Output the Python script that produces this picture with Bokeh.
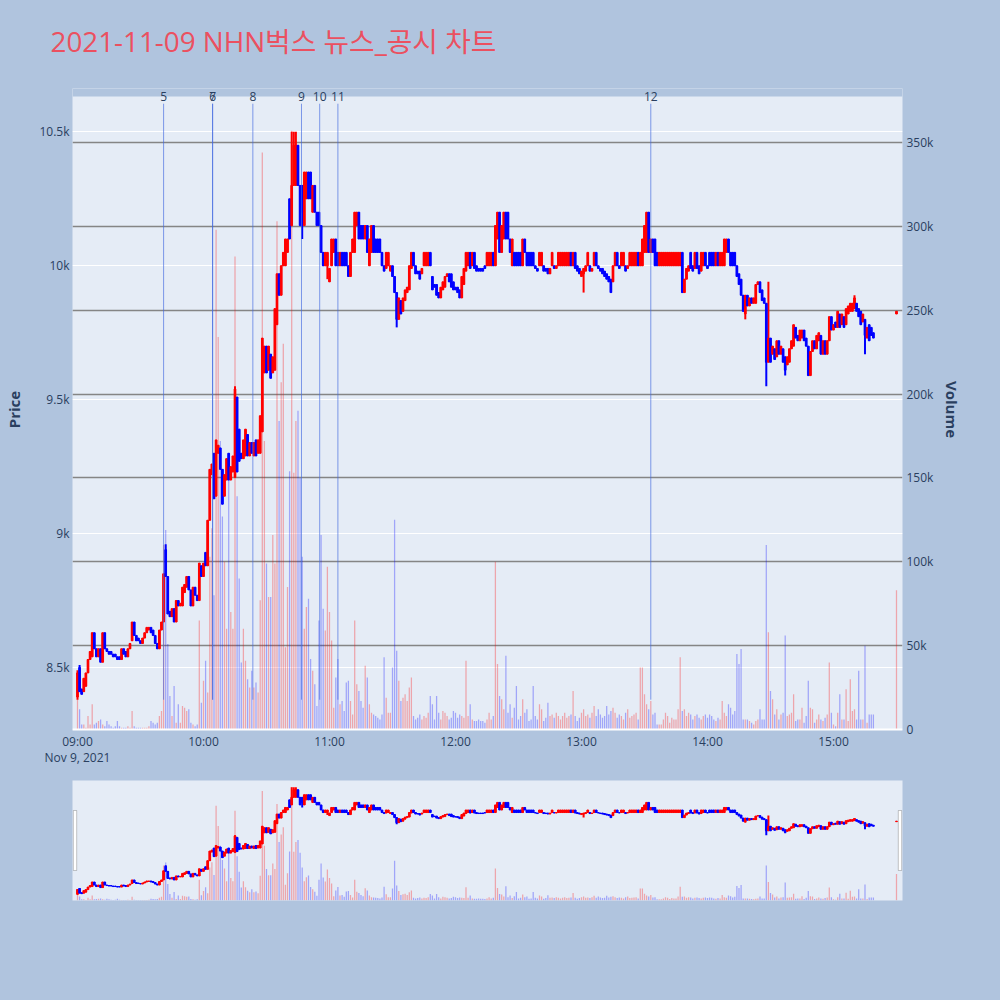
from bokeh.plotting import figure
from bokeh.models import (ColumnDataSource, Range1d, LinearAxis, FixedTicker, Grid, Span,
                          LabelSet, BoxAnnotation)
from bokeh.layouts import column
from bokeh.embed import file_html
from bokeh.resources import INLINE
from bokeh.core.properties import value

# ---------------- data ----------------
TITLE = "2021-11-09 NHN벅스 뉴스_공시 차트"
session_open = "09:00"

# one candle per minute from 09:00 (minute 0) to 15:19 (minute 379)
opens = [
    8390, 8500, 8420, 8410, 8430, 8480, 8530, 8540, 8630, 8570,
    8540, 8570, 8520, 8630, 8570, 8560, 8560, 8550, 8550, 8540,
    8540, 8530, 8570, 8560, 8540, 8570, 8600, 8670, 8620, 8610,
    8600, 8590, 8610, 8630, 8640, 8650, 8640, 8620, 8590, 8570,
    8640, 8670, 8940, 8840, 8710, 8690, 8720, 8670, 8750, 8730,
    8730, 8780, 8800, 8840, 8790, 8730, 8800, 8770, 8750, 8880,
    8840, 8930, 8880, 9050, 9220, 9300, 9140, 9300, 9320, 9240,
    9140, 9200, 9300, 9200, 9230, 9210, 9510, 9390, 9300, 9280,
    9290, 9370, 9290, 9340, 9290, 9350, 9300, 9300, 9380, 9600,
    9700, 9610, 9670, 9600, 9610, 9780, 9970, 9890, 10000, 10000,
    10050, 10250, 10150, 10300, 10300, 10450, 10300, 10300, 10150, 10250,
    10350, 10350, 10200, 10300, 10200, 10200, 10150, 10050, 10000, 10000,
    9940, 10000, 10050, 10100, 10050, 10000, 10050, 10050, 10050, 10000,
    9960, 10050, 10050, 10150, 10200, 10150, 10150, 10100, 10150, 10000,
    10050, 10150, 10100, 10100, 10100, 10050, 10000, 9990, 10000, 9980,
    10000, 9960, 9900, 9800, 9870, 9830, 9870, 9900, 9910, 9990,
    10050, 10000, 9980, 9980, 9970, 10000, 10000, 10000, 10050, 9960,
    9930, 9930, 9900, 9880, 9910, 9920, 9960, 9970, 9970, 9940,
    9920, 9920, 9910, 9880, 9930, 9980, 10000, 10050, 10000, 10050,
    10000, 9990, 9990, 9990, 10000, 10000, 10000, 10000, 10050, 10000,
    10100, 10200, 10050, 10100, 10200, 10200, 10100, 10000, 10050, 10050,
    10050, 10050, 10000, 10100, 10050, 10050, 10050, 10050, 10000, 9990,
    10000, 10000, 10000, 9990, 9990, 9970, 10000, 10000, 9990, 10000,
    10000, 10000, 10000, 10000, 10000, 10050, 10000, 10050, 10000, 9990,
    9960, 9970, 9980, 10000, 10000, 9980, 10000, 10050, 10000, 9990,
    9990, 9980, 9970, 9960, 9950, 9940, 10000, 10050, 10000, 10000,
    10000, 10000, 9990, 10000, 10000, 10000, 10000, 10050, 10000, 10000,
    10050, 10050, 10200, 10050, 10100, 10100, 10050, 10000, 10000, 10000,
    10000, 10000, 10000, 10000, 10000, 10000, 10000, 10000, 10050, 9900,
    9950, 9980, 10050, 10000, 9990, 10050, 10000, 9980, 10000, 10050,
    10000, 10050, 10050, 10050, 10000, 10050, 10000, 10000, 10000, 10050,
    10100, 10050, 10050, 10050, 10000, 9970, 9950, 9890, 9820, 9890,
    9850, 9880, 9860, 9860, 9930, 9940, 9910, 9880, 9860, 9640,
    9730, 9670, 9690, 9660, 9720, 9670, 9690, 9660, 9630, 9640,
    9690, 9700, 9770, 9740, 9720, 9730, 9760, 9730, 9700, 9590,
    9680, 9720, 9690, 9720, 9740, 9670, 9720, 9670, 9720, 9810,
    9760, 9790, 9770, 9820, 9780, 9810, 9780, 9820, 9830, 9830,
    9840, 9860, 9840, 9830, 9790, 9800, 9730, 9780, 9770, 9750,
]
closes = [
    8480, 8410, 8400, 8460, 8480, 8530, 8560, 8630, 8570, 8540,
    8570, 8520, 8630, 8570, 8560, 8550, 8550, 8540, 8540, 8530,
    8530, 8570, 8550, 8540, 8570, 8590, 8670, 8620, 8600, 8600,
    8590, 8610, 8630, 8650, 8650, 8630, 8620, 8590, 8570, 8640,
    8670, 8850, 8840, 8700, 8690, 8720, 8670, 8750, 8730, 8740,
    8800, 8810, 8840, 8790, 8730, 8800, 8770, 8750, 8890, 8840,
    8890, 8880, 9050, 9240, 9260, 9130, 9350, 9330, 9240, 9110,
    9220, 9280, 9200, 9250, 9290, 9540, 9230, 9270, 9280, 9350,
    9390, 9290, 9340, 9300, 9340, 9290, 9350, 9440, 9730, 9700,
    9600, 9700, 9580, 9660, 9840, 9970, 9890, 10000, 10050, 10100,
    10100, 10100, 10300, 10450, 10450, 10300, 10150, 10200, 10350, 10350,
    10250, 10250, 10300, 10200, 10150, 10150, 10050, 10000, 10050, 10050,
    9990, 10100, 10100, 10000, 10000, 10050, 10000, 10000, 10000, 9960,
    10050, 10100, 10200, 10200, 10100, 10100, 10100, 10150, 10050, 10100,
    10150, 10050, 10050, 10050, 10050, 10000, 9980, 10050, 10050, 10000,
    9960, 9900, 9800, 9880, 9820, 9880, 9910, 9920, 10000, 10050,
    10000, 9970, 9970, 9950, 9990, 10050, 10050, 10050, 10000, 9910,
    9920, 9890, 9880, 9920, 9940, 9960, 9970, 9940, 9920, 9910,
    9910, 9900, 9880, 9960, 9990, 10050, 10050, 9990, 10050, 9990,
    9980, 9980, 9980, 9980, 9990, 10050, 10050, 10050, 10000, 10150,
    10200, 10050, 10150, 10200, 10100, 10100, 10050, 10100, 10000, 10000,
    10000, 10000, 10100, 10050, 10000, 10000, 10000, 10000, 9990, 9980,
    10050, 10050, 9980, 9980, 9970, 9990, 10050, 9990, 10000, 10050,
    10050, 10050, 10050, 10050, 10050, 10000, 10050, 9990, 9980, 9970,
    9980, 9990, 10000, 10050, 9980, 9990, 10050, 10000, 9990, 9980,
    9970, 9960, 9950, 9940, 9900, 10000, 10050, 10000, 9990, 10050,
    10050, 9980, 10000, 10050, 10050, 10050, 10050, 10000, 10050, 10100,
    10150, 10200, 10050, 10100, 10050, 10000, 10000, 10050, 10050, 10050,
    10050, 10050, 10050, 10050, 10050, 10050, 10050, 10050, 9900, 9950,
    9990, 10000, 9990, 9980, 10050, 9990, 9970, 10050, 10050, 10000,
    9990, 10000, 10000, 10000, 10050, 10000, 10050, 10050, 10100, 10100,
    10050, 10000, 10000, 10000, 9960, 9930, 9890, 9830, 9890, 9850,
    9880, 9860, 9880, 9930, 9940, 9900, 9870, 9860, 9640, 9730,
    9640, 9700, 9650, 9720, 9670, 9700, 9640, 9610, 9660, 9690,
    9720, 9780, 9730, 9720, 9760, 9760, 9720, 9700, 9590, 9680,
    9720, 9690, 9740, 9750, 9670, 9720, 9670, 9720, 9810, 9760,
    9780, 9770, 9830, 9770, 9820, 9770, 9840, 9850, 9860, 9860,
    9880, 9830, 9810, 9780, 9820, 9740, 9770, 9720, 9740, 9730,
]
# traded volume per minute, thousands of shares
volumes_k = [
    18, 12, 3, 3, 1, 8, 3, 15, 3, 4,
    5, 6, 3, 2, 5, 3, 2, 1, 2, 5,
    2, 1, 1, 1, 2, 1, 11, 2, 1, 1,
    1, 1, 1, 1, 2, 5, 4, 3, 4, 8,
    11, 110, 119, 51, 20, 8, 26, 4, 15, 4,
    14, 13, 11, 12, 4, 3, 2, 3, 65, 16,
    29, 41, 22, 103, 120, 80, 298, 234, 172, 127,
    100, 60, 150, 70, 60, 282, 139, 90, 40, 60,
    41, 30, 25, 35, 25, 28, 22, 77, 344, 172,
    99, 79, 79, 116, 99, 303, 184, 207, 230, 49,
    85, 154, 357, 153, 184, 190, 150, 103, 60, 73,
    78, 42, 35, 27, 14, 65, 116, 72, 59, 97,
    70, 53, 13, 31, 42, 15, 17, 11, 28, 29,
    17, 9, 65, 27, 23, 17, 13, 38, 31, 15,
    10, 9, 8, 7, 6, 9, 43, 19, 10, 10,
    37, 125, 47, 29, 17, 19, 21, 17, 25, 31,
    8, 6, 7, 9, 6, 8, 7, 10, 20, 15,
    6, 20, 10, 6, 11, 10, 8, 6, 7, 11,
    10, 7, 9, 8, 7, 41, 8, 15, 6, 5,
    5, 6, 5, 5, 4, 6, 10, 6, 8, 100,
    39, 20, 18, 12, 44, 10, 15, 7, 13, 26,
    6, 8, 18, 10, 12, 5, 6, 26, 8, 6,
    15, 12, 5, 7, 16, 8, 9, 7, 10, 8,
    6, 8, 10, 7, 8, 9, 23, 8, 5, 7,
    10, 12, 8, 9, 7, 10, 14, 8, 12, 9,
    7, 8, 14, 9, 11, 13, 10, 7, 9, 8,
    6, 10, 12, 7, 8, 9, 10, 6, 37, 37,
    21, 15, 12, 17, 9, 10, 3, 3, 3, 6,
    10, 8, 4, 7, 6, 6, 12, 43, 11, 12,
    8, 10, 9, 6, 8, 9, 7, 6, 8, 9,
    7, 9, 8, 6, 5, 7, 6, 17, 10, 8,
    15, 13, 9, 11, 45, 39, 48, 6, 6, 6,
    5, 4, 3, 5, 6, 12, 6, 6, 110, 58,
    23, 18, 9, 12, 6, 9, 10, 56, 8, 9,
    10, 21, 5, 6, 6, 13, 4, 8, 29, 13,
    12, 4, 6, 9, 6, 5, 7, 9, 40, 10,
    3, 2, 10, 21, 6, 6, 24, 5, 30, 11,
    12, 6, 35, 6, 6, 50, 4, 9, 9, 9,
]
# wicks that reach beyond the candle body (minute index -> price)
high_wicks = {0: 8490, 1: 8510, 42: 8960, 75: 9550, 102: 10500, 103: 10500,
              104: 10500, 329: 9940, 370: 9890}
low_wicks = {0: 8380, 107: 10100, 119: 9950, 152: 9770, 241: 9900, 318: 9800,
             328: 9550, 337: 9590, 375: 9670}

# closing auction
auction_time = "15:30"
auction_open = 9820
auction_close = 9830
auction_volume_k = 83

news_ids = ["5", "6", "7", "8", "9", "10", "11", "12"]
news_times = ["09:41:00", "10:04:20", "10:04:20", "10:23:30", "10:46:40",
              "10:55:20", "11:04:00", "13:33:00"]

price_ticks = [8500, 9000, 9500, 10000, 10500]
price_tick_labels = ["8.5k", "9k", "9.5k", "10k", "10.5k"]
volume_ticks = [0, 50000, 100000, 150000, 200000, 250000, 300000, 350000]
volume_tick_labels = ["0", "50k", "100k", "150k", "200k", "250k", "300k", "350k"]
hour_ticks = ["09:00", "10:00", "11:00", "12:00", "13:00", "14:00", "15:00"]
hour_tick_labels = ["09:00\nNov 9, 2021", "10:00", "11:00", "12:00", "13:00", "14:00", "15:00"]

# ---------------- helpers ----------------
def minutes_after_open(t):
    parts = [int(s) for s in t.split(":")]
    while len(parts) < 3:
        parts.append(0)
    o = [int(s) for s in session_open.split(":")]
    return (parts[0] - o[0]) * 60 + (parts[1] - o[1]) + parts[2] / 60.0


BG = "#B0C4DE"
PLOT_BG = "#E5ECF6"
FONT = "Open Sans"
TXT = "#2a3f5f"
UP = "#FF0000"
DOWN = "#0000FF"

xs = list(range(len(opens))) + [minutes_after_open(auction_time)]
o_all = opens + [auction_open]
c_all = closes + [auction_close]
v_all = [v * 1000 for v in volumes_k + [auction_volume_k]]
hi_all = [max(o, c, high_wicks.get(i, 0)) for i, (o, c) in enumerate(zip(o_all, c_all))]
lo_all = [min(o, c, low_wicks.get(i, 10 ** 9)) for i, (o, c) in enumerate(zip(o_all, c_all))]
colors = [UP if c > o else DOWN for o, c in zip(o_all, c_all)]

src = ColumnDataSource(dict(
    x=xs, open=o_all, close=c_all, high=hi_all, low=lo_all,
    top=[max(o, c) for o, c in zip(o_all, c_all)],
    bottom=[min(o, c) for o, c in zip(o_all, c_all)],
    vol=v_all, color=colors,
))

news_x = [minutes_after_open(t) for t in news_times]

x_range = Range1d(-2.38, 392.86)
price_lo, price_hi = 8265, 10632
vol_lo, vol_hi = -600, 377400
FRAME_H = 634                 # visible plot area height, px
PAD = 8                       # strip above the plot area that holds the news labels
price_pad = (price_hi - price_lo) / FRAME_H * PAD
vol_pad = (vol_hi - vol_lo) / FRAME_H * PAD

W = 1000
HEAD_H = 80
MAIN_H = PAD + FRAME_H + PAD + 40   # top border + pad strip + plot + x-axis area

# ---------------- header ----------------
header = figure(width=W, height=HEAD_H, x_range=Range1d(0, W), y_range=Range1d(0, HEAD_H),
                toolbar_location=None, x_axis_location=None, y_axis_location=None,
                output_backend="svg", min_border=0, frame_align=False)
header.outline_line_color = None
header.background_fill_color = BG
header.border_fill_color = BG
header.xgrid.visible = False
header.ygrid.visible = False
header.text(x=[50], y=[40], text=[TITLE], text_font=value("Open Sans, Noto Sans CJK KR"),
            text_font_size="27.8px", text_color="#EB5060", text_baseline="middle",
            text_align="left")

# ---------------- main chart ----------------
p = figure(width=W, height=MAIN_H, x_range=x_range,
           y_range=Range1d(price_lo, price_hi + price_pad), toolbar_location=None,
           output_backend="svg", min_border_left=72, min_border_right=98,
           min_border_top=PAD, min_border_bottom=40)
p.extra_y_ranges = {"vol": Range1d(vol_lo, vol_hi + vol_pad)}
p.outline_line_color = None
p.background_fill_color = PLOT_BG
p.border_fill_color = BG

p.xgrid.visible = False
p.ygrid.ticker = FixedTicker(ticks=price_ticks)
p.ygrid.grid_line_color = "white"
p.ygrid.grid_line_width = 1

vol_grid = Grid(dimension=1, y_range_name="vol",
                ticker=FixedTicker(ticks=volume_ticks[1:]),
                grid_line_color="#858585", grid_line_width=1.3)
p.add_layout(vol_grid)
p.add_layout(Span(location=0, dimension="width", y_range_name="vol",
                  line_color="white", line_width=2))

# axes
xa = p.xaxis[0]
xa.ticker = FixedTicker(ticks=[minutes_after_open(t) for t in hour_ticks])
xa.major_label_overrides = {int(minutes_after_open(t)): lab
                            for t, lab in zip(hour_ticks, hour_tick_labels)}
ya = p.yaxis[0]
ya.ticker = FixedTicker(ticks=price_ticks)
ya.major_label_overrides = dict(zip(price_ticks, price_tick_labels))
ya.axis_label = "Price"
va = LinearAxis(y_range_name="vol", ticker=FixedTicker(ticks=volume_ticks),
                major_label_overrides=dict(zip(volume_ticks, volume_tick_labels)),
                axis_label="Volume")
p.add_layout(va, "right")
for ax in (xa, ya, va):
    ax.axis_line_color = None
    ax.major_tick_line_color = None
    ax.minor_tick_line_color = None
    ax.major_tick_out = 0
    ax.major_tick_in = 0
    ax.minor_tick_out = 0
    ax.minor_tick_in = 0
    ax.major_label_text_font = FONT
    ax.major_label_text_font_size = "12px"
    ax.major_label_text_color = TXT
    ax.axis_label_text_font = FONT
    ax.axis_label_text_font_size = "15px"
    ax.axis_label_text_font_style = "bold"
    ax.axis_label_text_color = TXT
xa.major_label_standoff = 2
xa.major_label_text_line_height = 0.95
ya.major_label_standoff = 3
ya.axis_label_standoff = 12
va.major_label_standoff = 4
va.axis_label_standoff = 6

# strip above the plot area (same colour as the page) for the news labels
p.add_layout(BoxAnnotation(bottom=price_hi, fill_color=BG, fill_alpha=1.0, line_color=None))

# volume bars
p.vbar(x="x", width=0.6, top="vol", bottom=0, source=src, y_range_name="vol",
       fill_color="color", line_color=None, fill_alpha=0.3)
# candles
p.segment(x0="x", y0="low", x1="x", y1="high", source=src, line_color="color", line_width=2)
p.vbar(x="x", width=0.8, top="top", bottom="bottom", source=src,
       fill_color="color", line_color="color", line_width=1)

# news markers
line_bottom = min(lo_all)
line_top = max(hi_all) * 1.01
news_src = ColumnDataSource(dict(x=news_x, y0=[line_bottom] * len(news_x),
                                 y1=[line_top] * len(news_x), label=news_ids,
                                 ly=[price_hi] * len(news_x)))
p.segment(x0="x", y0="y0", x1="x", y1="y1", source=news_src,
          line_color="royalblue", line_alpha=0.65, line_width=1)
p.add_layout(LabelSet(x="x", y="ly", text="label", source=news_src,
                      text_align="center", text_baseline="middle",
                      text_font=value(FONT), text_font_size="12px", text_color=TXT))

# ---------------- range slider ----------------
s_height = W - HEAD_H - MAIN_H
s = figure(width=W, height=s_height, x_range=x_range, y_range=Range1d(price_lo, price_hi),
           toolbar_location=None, x_axis_location=None, y_axis_location=None,
           output_backend="svg", min_border_left=72, min_border_right=98,
           min_border_top=10, min_border_bottom=s_height - 130)
s.extra_y_ranges = {"vol": Range1d(vol_lo, vol_hi)}
s.outline_line_color = None
s.background_fill_color = PLOT_BG
s.border_fill_color = BG
s.xgrid.visible = False
s.ygrid.visible = False
s.vbar(x="x", width=0.6, top="vol", bottom=0, source=src, y_range_name="vol",
       fill_color="color", line_color=None, fill_alpha=0.3)
s.segment(x0="x", y0="low", x1="x", y1="high", source=src, line_color="color", line_width=2)
s.vbar(x="x", width=0.8, top="top", bottom="bottom", source=src,
       fill_color="color", line_color="color", line_width=1)
span_p = price_hi - price_lo
h_top = price_hi - span_p * 0.25
h_bot = price_lo + span_p * 0.25
for left, right in ((x_range.start + 0.4, x_range.start + 2.0),
                    (x_range.end - 2.0, x_range.end - 0.4)):
    s.add_layout(BoxAnnotation(left=left, right=right, bottom=h_bot, top=h_top,
                               fill_color="white", fill_alpha=1.0,
                               line_color="#444444", line_width=1))

layout = column(header, p, s, spacing=0, styles={"background-color": BG})

html = file_html(layout, INLINE, title="NHN벅스 뉴스_공시 차트")
html = html.replace("<body>", '<body style="background-color:#B0C4DE;">', 1)
open("out.html", "w").write(html)
